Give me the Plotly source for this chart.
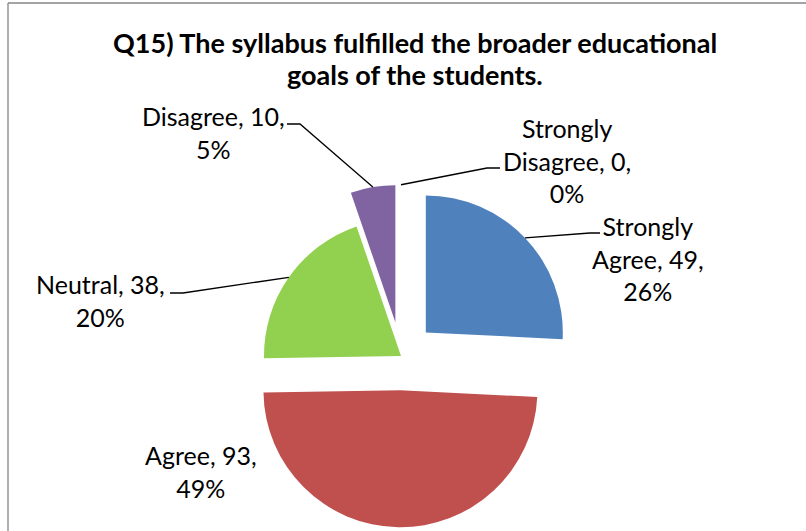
import math
import plotly.graph_objects as go

# ---- data ----
categories = ["Strongly Agree", "Agree", "Neutral", "Disagree", "Strongly Disagree"]
counts = [49, 93, 38, 10, 0]
percent_labels = ["26%", "49%", "20%", "5%", "0%"]
title_lines = ["Q15) The syllabus fulfilled the broader educational", "goals of the students."]

# ---- style / layout ----
W, H = 806, 531
colors = ["#4F81BD", "#C0504D", "#92D050", "#8064A2", "#4BACC6"]
pulls = [0.25, 0.25, 0.0, 0.25, 0.25]
CX, CY, HALF = 401, 356, 171.25  # pie box centre / half size in px
font_family = "Lato, 'Open Sans', sans-serif"

# label text lines, block centres (px) and leader elbows (px)
label_lines = [
    ["Strongly", "Agree, 49,", "26%"],
    ["Agree, 93,", "49%"],
    ["Neutral, 38,", "20%"],
    ["Disagree, 10,", "5%"],
    ["Strongly", "Disagree, 0,", "0%"],
]
label_pos = [(648, 258), (201, 471), (100, 300), (213, 133), (567, 160)]
leader_elbows = [
    [(600, 233), (590, 233)],
    None,
    [(170, 293), (183, 293)],
    [(287, 124), (300, 124)],
    [(500, 168), (487, 168)],
]
title_pos = [(415, 43), (415, 74)]


def px(x):
    return x / W


def py(y):
    return 1 - y / H


fig = go.Figure()
fig.add_trace(go.Pie(
    labels=categories,
    values=counts,
    sort=False,
    direction="clockwise",
    rotation=0,
    pull=pulls,
    marker=dict(colors=colors, line=dict(width=0)),
    textinfo="none",
    hoverinfo="label+value+percent",
    showlegend=False,
    domain=dict(x=[px(CX - HALF), px(CX + HALF)], y=[py(CY + HALF), py(CY - HALF)]),
))

# geometry consistent with plotly's pie layout
max_pull = max(pulls)
R = HALF / (1 + max_pull)
total = sum(counts)
cum = 0
shapes = []
annotations = []
for i, v in enumerate(counts):
    a0 = cum / total * 2 * math.pi
    cum += v
    a1 = cum / total * 2 * math.pi
    mid = (a0 + a1) / 2
    ox = CX + pulls[i] * R * math.sin(mid)
    oy = CY - pulls[i] * R * math.cos(mid)
    ex = ox + R * math.sin(mid)
    ey = oy - R * math.cos(mid)
    if leader_elbows[i]:
        pts = leader_elbows[i] + [(ex, ey)]
        path = "M " + " L ".join(f"{px(x):.5f},{py(y):.5f}" for x, y in pts)
        shapes.append(dict(type="path", xref="paper", yref="paper", path=path,
                           line=dict(color="black", width=1.3)))
    lx, ly = label_pos[i]
    annotations.append(dict(
        x=px(lx), y=py(ly), xref="paper", yref="paper",
        text="<br>".join(label_lines[i]), showarrow=False,
        xanchor="center", yanchor="middle", align="center",
        font=dict(family=font_family, size=25, color="black"),
    ))

for t, (tx, ty) in zip(title_lines, title_pos):
    annotations.append(dict(
        x=px(tx), y=py(ty), xref="paper", yref="paper", text="<b>" + t + "</b>",
        showarrow=False, xanchor="center", yanchor="middle", align="center",
        font=dict(family=font_family, size=27, color="black"),
    ))

# outer border (only top and left edges are visible in the crop)
border = dict(color="#868686", width=1.3)
shapes.append(dict(type="line", xref="paper", yref="paper",
                   x0=px(8), x1=1, y0=py(3), y1=py(3), line=border))
shapes.append(dict(type="line", xref="paper", yref="paper",
                   x0=px(8), x1=px(8), y0=py(3), y1=0, line=border))

fig.update_layout(
    width=W, height=H,
    margin=dict(l=0, r=0, t=0, b=0),
    paper_bgcolor="white", plot_bgcolor="white",
    shapes=shapes, annotations=annotations,
)

fig.write_html(
    "out.html", config={"displayModeBar": False},
    post_script=("document.body.style.margin='0';"
                 "document.body.style.overflow='hidden';"
                 "document.documentElement.style.overflow='hidden';"),
)
